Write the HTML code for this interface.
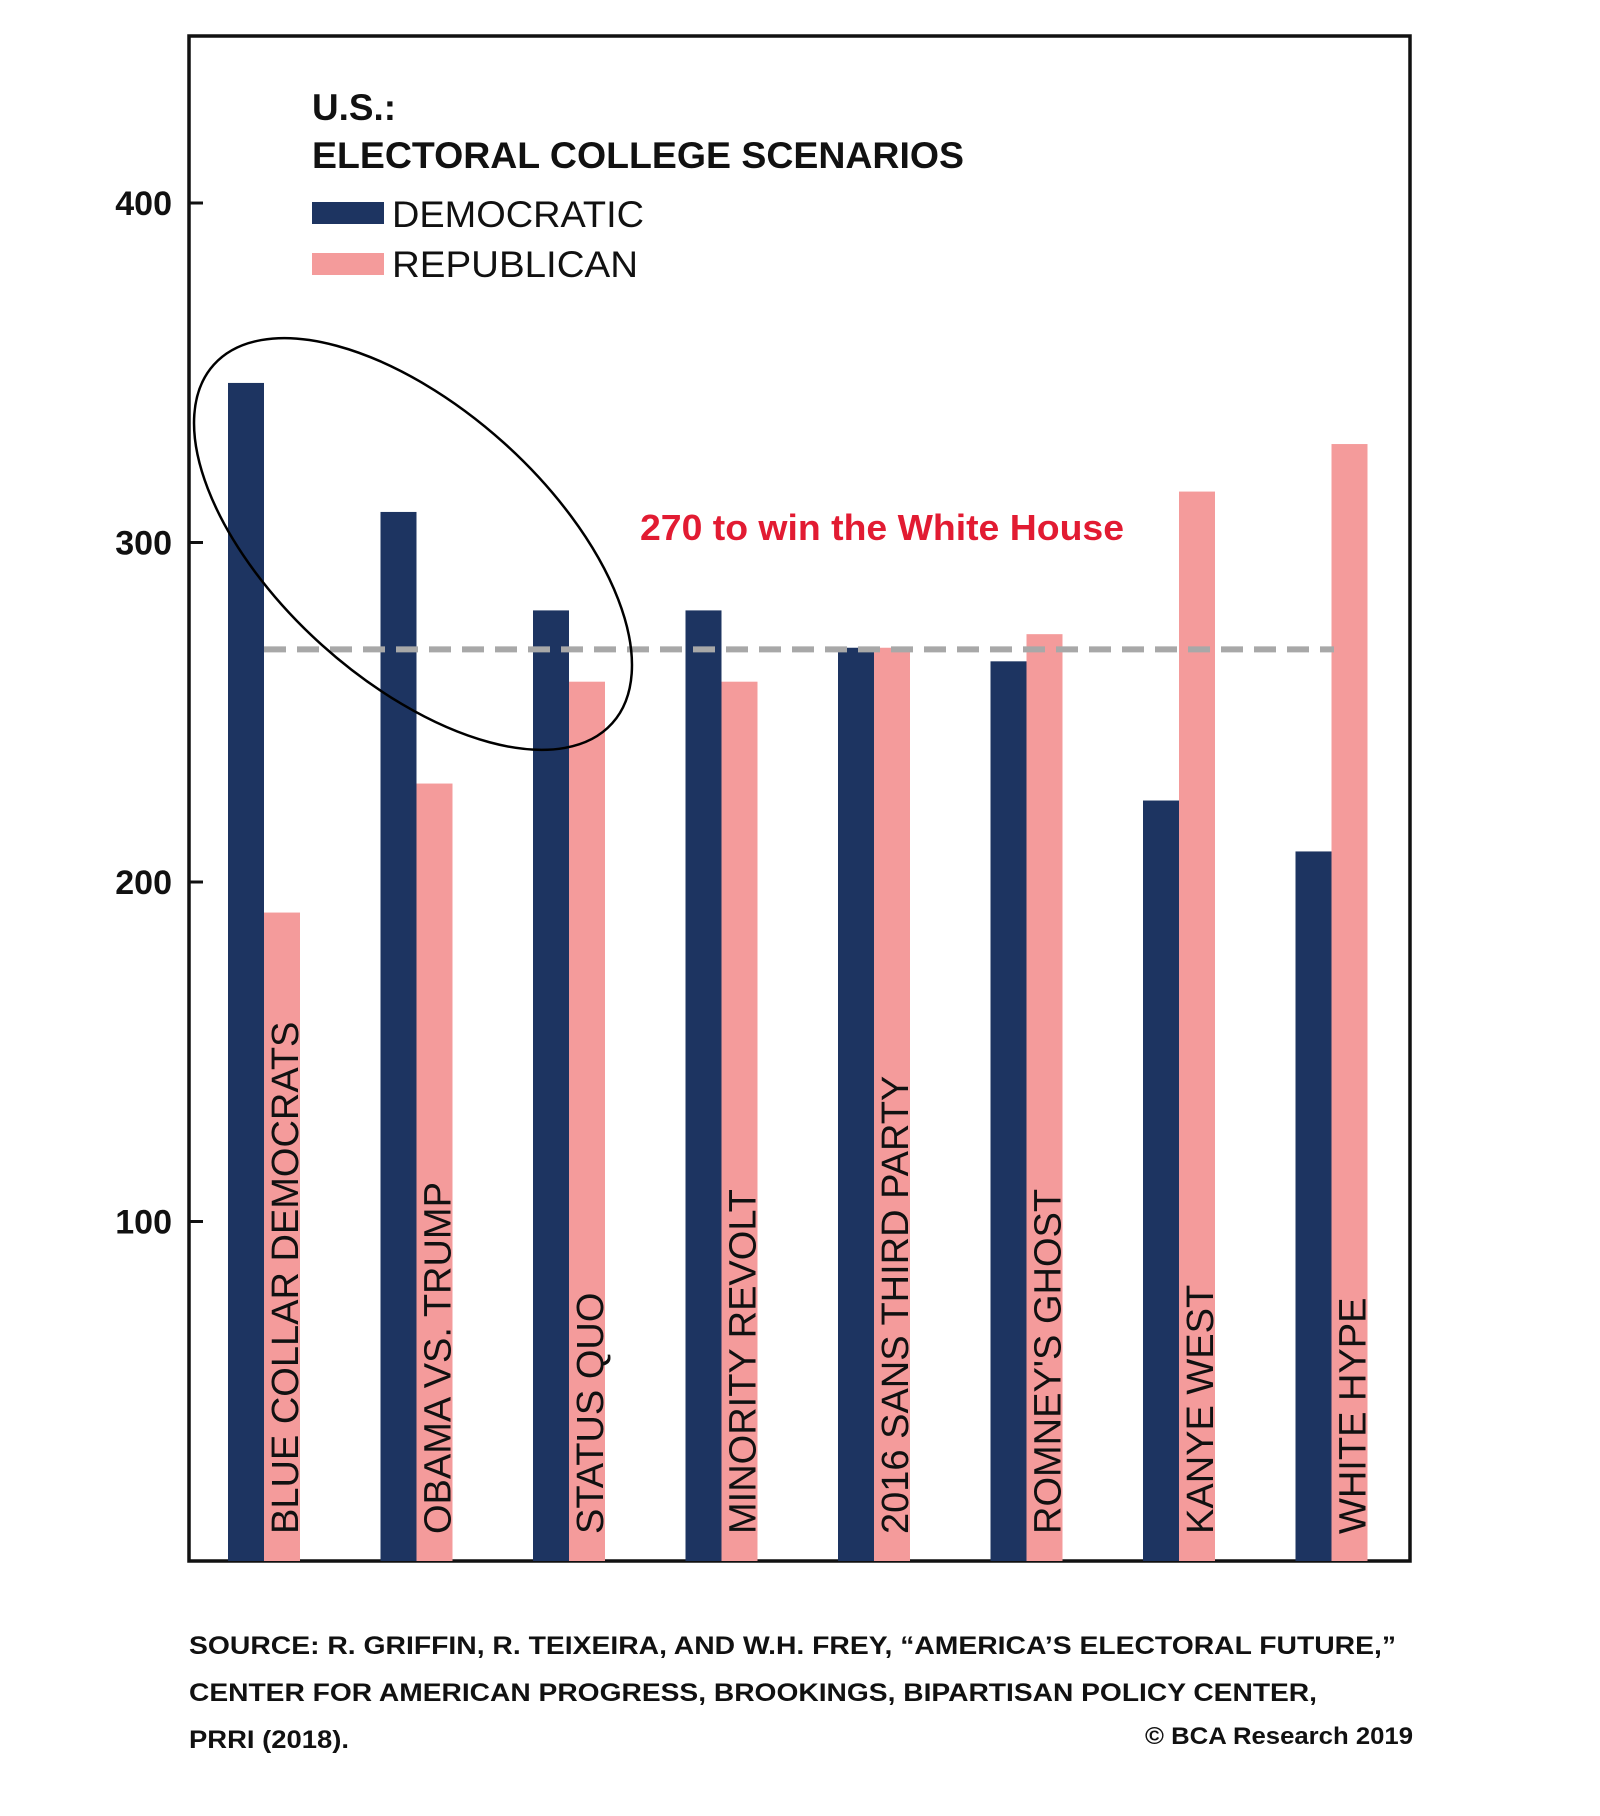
<!DOCTYPE html>
<html><head><meta charset="utf-8"><style>
html,body{margin:0;padding:0;background:#fff;}
svg{display:block;font-family:"Liberation Sans",Arial,sans-serif;}
</style></head><body>
<svg id="chart" width="1600" height="1816" viewBox="0 0 1600 1816" xmlns="http://www.w3.org/2000/svg">
<rect x="0" y="0" width="1600" height="1816" fill="#fff"/>
<rect x="189" y="36" width="1221" height="1525" fill="none" stroke="#111" stroke-width="3.5"/>
<g id="bars"></g>
<g id="yaxis"></g>
<g id="labels"></g>
<line id="threshold" stroke="#a8a8a8" stroke-width="6" stroke-dasharray="22,11"/>
<text x="640" y="540" fill="#e21b32" font-weight="bold" font-size="36" textLength="484" lengthAdjust="spacingAndGlyphs">270 to win the White House</text>
<ellipse cx="413" cy="544" rx="268" ry="136" transform="rotate(42 413 544)" fill="none" stroke="#000" stroke-width="2.5"/>
<g font-weight="bold" font-size="37" fill="#111">
<text x="312" y="120" textLength="84" lengthAdjust="spacingAndGlyphs">U.S.:</text>
<text x="312" y="168" textLength="652" lengthAdjust="spacingAndGlyphs">ELECTORAL COLLEGE SCENARIOS</text>
</g>
<g>
<rect x="312" y="202" width="72" height="22" fill="#1d3461"/>
<text x="392" y="227" font-size="37" fill="#111" textLength="252" lengthAdjust="spacingAndGlyphs">DEMOCRATIC</text>
<rect x="312" y="253" width="72" height="22" fill="#f49b9b"/>
<text x="392" y="277" font-size="37" fill="#111" textLength="246" lengthAdjust="spacingAndGlyphs">REPUBLICAN</text>
</g>
<g font-weight="bold" font-size="25" fill="#111">
<text x="189" y="1654" textLength="1207" lengthAdjust="spacingAndGlyphs">SOURCE: R. GRIFFIN, R. TEIXEIRA, AND W.H. FREY, “AMERICA’S ELECTORAL FUTURE,”</text>
<text x="189" y="1701" textLength="1128" lengthAdjust="spacingAndGlyphs">CENTER FOR AMERICAN PROGRESS, BROOKINGS, BIPARTISAN POLICY CENTER,</text>
<text x="189" y="1748" textLength="160" lengthAdjust="spacingAndGlyphs">PRRI (2018).</text>
</g>
<text x="1413" y="1744" text-anchor="end" font-weight="bold" font-size="24" fill="#111" textLength="268" lengthAdjust="spacingAndGlyphs">© BCA Research 2019</text>
</svg>
<script>
const categories = ["BLUE COLLAR DEMOCRATS","OBAMA VS. TRUMP","STATUS QUO","MINORITY REVOLT","2016 SANS THIRD PARTY","ROMNEY'S GHOST","KANYE WEST","WHITE HYPE"];
const demValues = [347, 309, 280, 280, 269, 265, 224, 209];
const repValues = [191, 229, 259, 259, 269, 273, 315, 329];
const yTicks = [100, 200, 300, 400];
const threshold = 270;

const NS = "http://www.w3.org/2000/svg";
const y0 = 1561, pxPerUnit = (1561 - 203) / 400;
const yScale = v => y0 - v * pxPerUnit;
const groupX = i => 228 + i * 152.5;
const barW = 36;

const bars = document.getElementById('bars');
const labels = document.getElementById('labels');
categories.forEach((c, i) => {
  const d = document.createElementNS(NS, 'rect');
  d.setAttribute('x', groupX(i)); d.setAttribute('width', barW);
  d.setAttribute('y', yScale(demValues[i])); d.setAttribute('height', y0 - yScale(demValues[i]));
  d.setAttribute('fill', '#1d3461');
  
  
  bars.appendChild(d);
  const r = document.createElementNS(NS, 'rect');
  r.setAttribute('x', groupX(i) + barW); r.setAttribute('width', barW);
  r.setAttribute('y', yScale(repValues[i])); r.setAttribute('height', y0 - yScale(repValues[i]));
  r.setAttribute('fill', '#f49b9b');
  
  
  bars.appendChild(r);
  const t = document.createElementNS(NS, 'text');
  const tx = groupX(i) + barW + 34, ty = 1534;
  t.setAttribute('x', tx); t.setAttribute('y', ty);
  t.setAttribute('transform', `rotate(-90 ${tx} ${ty})`);
  t.setAttribute('font-size', '38'); t.setAttribute('fill', '#111');
  t.textContent = c;
  
  
  labels.appendChild(t);
});

const yaxis = document.getElementById('yaxis');
yTicks.forEach(v => {
  const l = document.createElementNS(NS, 'line');
  l.setAttribute('x1', 189); l.setAttribute('x2', 203);
  l.setAttribute('y1', yScale(v)); l.setAttribute('y2', yScale(v));
  l.setAttribute('stroke', '#111'); l.setAttribute('stroke-width', '3');
  
  
  yaxis.appendChild(l);
  const t = document.createElementNS(NS, 'text');
  t.setAttribute('x', 172); t.setAttribute('y', yScale(v) + 12);
  t.setAttribute('text-anchor', 'end'); t.setAttribute('font-weight', 'bold');
  t.setAttribute('font-size', '34'); t.setAttribute('fill', '#111');
  t.textContent = v;
  
  
  yaxis.appendChild(t);
});

const th = document.getElementById('threshold');
th.setAttribute('x1', 264); th.setAttribute('x2', 1334);
th.setAttribute('y1', yScale(threshold) + 5); th.setAttribute('y2', yScale(threshold) + 5);
</script>
</body></html>
